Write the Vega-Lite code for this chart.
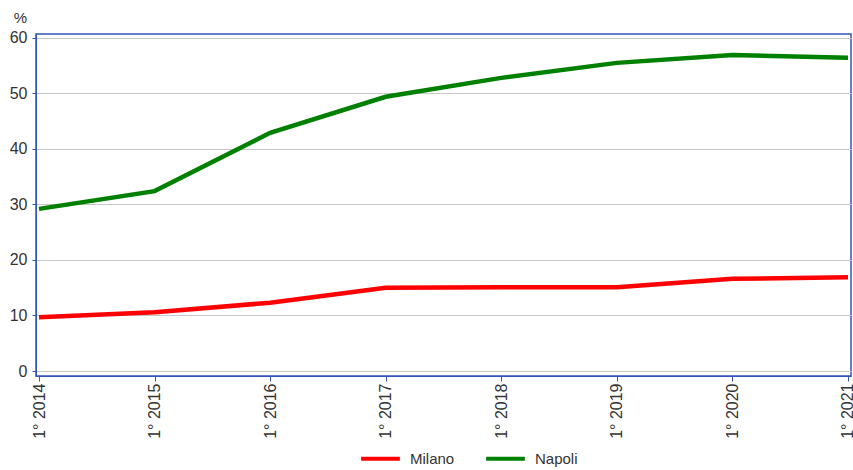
{
  "$schema": "https://vega.github.io/schema/vega-lite/v6.json",
  "autosize": {"type": "none"},
  "padding": {"left": 36, "top": 34, "right": 2, "bottom": 94},
  "width": 815,
  "height": 342,
  "background": "white",
  "config": {
    "font": "Liberation Sans",
    "view": {"stroke": "#3355bb", "strokeWidth": 1.5},
    "axis": {"labelFont": "Liberation Sans", "titleFont": "Liberation Sans"}
  },
  "data": {
    "values": [
      {"anno": 2014, "citta": "Milano", "valore": 9.7},
      {"anno": 2015, "citta": "Milano", "valore": 10.6},
      {"anno": 2016, "citta": "Milano", "valore": 12.3},
      {"anno": 2017, "citta": "Milano", "valore": 15.0},
      {"anno": 2018, "citta": "Milano", "valore": 15.1},
      {"anno": 2019, "citta": "Milano", "valore": 15.1},
      {"anno": 2020, "citta": "Milano", "valore": 16.6},
      {"anno": 2021, "citta": "Milano", "valore": 16.9},
      {"anno": 2014, "citta": "Napoli", "valore": 29.2},
      {"anno": 2015, "citta": "Napoli", "valore": 32.4},
      {"anno": 2016, "citta": "Napoli", "valore": 42.9},
      {"anno": 2017, "citta": "Napoli", "valore": 49.4},
      {"anno": 2018, "citta": "Napoli", "valore": 52.8},
      {"anno": 2019, "citta": "Napoli", "valore": 55.5},
      {"anno": 2020, "citta": "Napoli", "valore": 56.9},
      {"anno": 2021, "citta": "Napoli", "valore": 56.4}
    ]
  },
  "mark": {"type": "line", "strokeWidth": 4.5, "clip": true},
  "encoding": {
    "x": {
      "field": "anno",
      "type": "quantitative",
      "scale": {"domain": [2013.974, 2021.026], "nice": false, "zero": false},
      "axis": {
        "values": [2014, 2015, 2016, 2017, 2018, 2019, 2020, 2021],
        "labelExpr": "'1° ' + datum.value",
        "labelAngle": -90,
        "labelFontSize": 16,
        "labelColor": "#333333",
        "labelPadding": 2,
        "domainColor": "#3355bb",
        "tickColor": "#3355bb",
        "tickSize": 5,
        "grid": false,
        "title": null
      }
    },
    "y": {
      "field": "valore",
      "type": "quantitative",
      "scale": {"domain": [-0.9, 60.7], "nice": false, "zero": false},
      "axis": {
        "values": [0, 10, 20, 30, 40, 50, 60],
        "labelFontSize": 16,
        "labelColor": "#333333",
        "labelPadding": 5,
        "domainColor": "#3355bb",
        "tickColor": "#3355bb",
        "tickSize": 4,
        "grid": true,
        "gridColor": "#c8c8c8",
        "gridWidth": 1,
        "title": "%",
        "titleAngle": 0,
        "titleFontSize": 15,
        "titleFontWeight": "normal",
        "titleColor": "#333333",
        "titleAlign": "center",
        "titleX": -16,
        "titleY": -9
      }
    },
    "color": {
      "field": "citta",
      "type": "nominal",
      "scale": {"domain": ["Milano", "Napoli"], "range": ["#ff0000", "#008000"]},
      "legend": {
        "title": null,
        "orient": "none",
        "direction": "horizontal",
        "legendX": 323,
        "legendY": 403,
        "symbolType": "stroke",
        "symbolStrokeWidth": 4,
        "symbolSize": 1500,
        "labelFontSize": 15,
        "labelColor": "#333333",
        "columnPadding": 23,
        "labelOffset": 8
      }
    }
  }
}
